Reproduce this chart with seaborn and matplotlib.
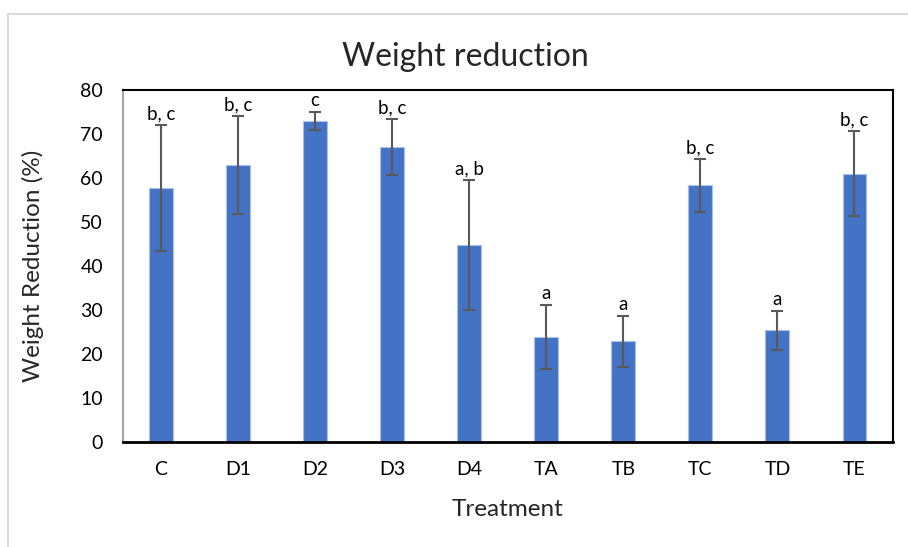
import matplotlib
matplotlib.use("Agg")
import matplotlib.pyplot as plt
from matplotlib.patches import Rectangle
import seaborn as sns
import pandas as pd

# Treatment means, standard deviations and significance groups
treatments = ["C", "D1", "D2", "D3", "D4", "TA", "TB", "TC", "TD", "TE"]
means = [57.7, 62.9, 73.0, 67.0, 44.7, 23.9, 22.9, 58.3, 25.4, 61.0]
errors = [14.3, 11.1, 2.0, 6.3, 14.8, 7.2, 5.8, 6.0, 4.4, 9.6]
groups = ["b, c", "b, c", "c", "b, c", "a, b", "a", "a", "b, c", "a", "b, c"]
y_ticks = [0, 10, 20, 30, 40, 50, 60, 70, 80]

df = pd.DataFrame({"Treatment": treatments, "Weight": means})

sns.set_theme(style="white")
plt.rcParams["font.family"] = ["Lato", "DejaVu Sans"]

W, H = 908, 547
fig = plt.figure(figsize=(W / 100, H / 100), dpi=100)

# light chart-area frame
fig.patches.append(Rectangle((8 / W, -0.1), 1.2, 1 - 14 / H + 0.1,
                             transform=fig.transFigure, fill=False,
                             edgecolor="#d9d9d9", linewidth=1.5))

ax = fig.add_axes([122.5 / W, 1 - 442 / H, (893 - 122.5) / W, (442 - 90) / H])

sns.barplot(data=df, x="Treatment", y="Weight", color="#4472C4",
            saturation=1, width=0.31, edgecolor="#a9c1ea", linewidth=0.8,
            errorbar=None, ax=ax)

xs = list(range(len(treatments)))
ax.errorbar(xs, means, yerr=errors, fmt="none", ecolor="#595959",
            elinewidth=1.5, capsize=4, capthick=1.5, zorder=5)

for x, m, e, g in zip(xs, means, errors, groups):
    ax.annotate(g, (x, m + e), xytext=(0, 2), textcoords="offset points",
                ha="center", va="bottom", fontsize=13.5, color="black")

ax.set_ylim(0, 80)
ax.set_xlim(-0.5, len(treatments) - 0.5)
ax.set_yticks(y_ticks)
ax.tick_params(axis="both", length=0, labelsize=14, colors="black")
ax.tick_params(axis="y", pad=14)
ax.tick_params(axis="x", pad=14)

for side in ["top", "bottom", "right"]:
    ax.spines[side].set_color("black")
    ax.spines[side].set_linewidth(1.5)
ax.spines["left"].set_color("#a6a6a6")
ax.spines["left"].set_linewidth(1.5)
ax.spines["bottom"].set_linewidth(2)

ax.set_xlabel("Treatment", fontsize=17.5, va="center")
ax.xaxis.set_label_coords(0.5, -(510 - 442) / (442 - 90))
ax.set_ylabel("Weight Reduction (%)", fontsize=17.5, va="center")
ax.yaxis.set_label_coords(-(122.5 - 33) / (893 - 122.5), 0.5)

fig.text(465 / W, 1 - 57 / H, "Weight reduction", ha="center", va="center",
         fontsize=23)

fig.savefig("out.png", dpi=100)
